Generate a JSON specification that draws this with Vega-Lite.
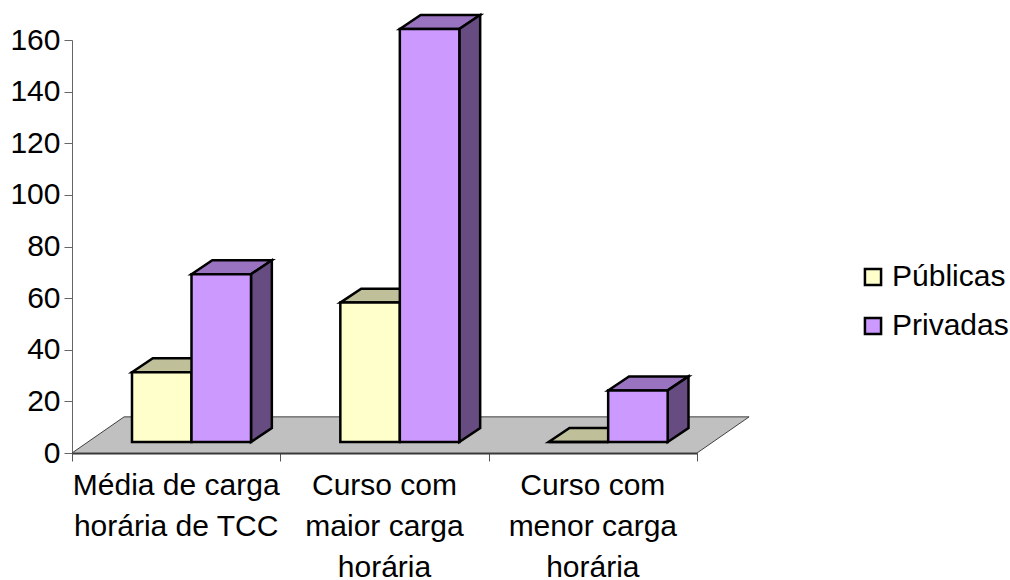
{
  "$schema": "https://vega.github.io/schema/vega-lite/v6.json",
  "autosize": {"type": "none"},
  "width": 625,
  "height": 413,
  "padding": {"left": 72, "top": 40, "right": 313, "bottom": 127},
  "background": "white",
  "config": {"view": {"stroke": null}, "font": "Liberation Sans"},
  "datasets": {
    "bars": [
      {"category": "Média de carga\nhorária de TCC", "series": "Públicas", "value": 27},
      {"category": "Média de carga\nhorária de TCC", "series": "Privadas", "value": 65},
      {"category": "Curso com\nmaior carga\nhorária", "series": "Públicas", "value": 54},
      {"category": "Curso com\nmaior carga\nhorária", "series": "Privadas", "value": 160},
      {"category": "Curso com\nmenor carga\nhorária", "series": "Públicas", "value": 0},
      {"category": "Curso com\nmenor carga\nhorária", "series": "Privadas", "value": 20}
    ]
  },
  "data": {"name": "bars"},
  "transform": [
    {"calculate": "indexof(datum.category,'Média')>=0?0:indexof(datum.category,'maior')>=0?1:2", "as": "i"},
    {"calculate": "datum.i+0.288+(datum.series==='Privadas'?0.2856:0)", "as": "x0"},
    {"calculate": "datum.x0+0.2856", "as": "x1"},
    {"calculate": "4.26", "as": "base"},
    {"calculate": "datum.base+datum.value", "as": "top"},
    {"calculate": "datum.i+'-'+datum.series", "as": "key"}
  ],
  "layer": [
    {
      "transform": [
        {"filter": "datum.i===0 && datum.series==='Públicas'"},
        {"calculate": "[0,1,2,3]", "as": "k"},
        {"flatten": ["k"]},
        {"calculate": "datum.k===0?0:datum.k===1?0.25:datum.k===2?3:3.25", "as": "fx"},
        {"calculate": "datum.k===3?14:0", "as": "fy"},
        {"calculate": "datum.k===0?0:14", "as": "fy2"}
      ],
      "mark": {"type": "area", "orient": "vertical", "fill": "#c0c0c0", "stroke": "#404040", "strokeWidth": 1},
      "encoding": {
        "x": {"field": "fx", "type": "quantitative", "scale": {"domain": [0, 3], "nice": false, "zero": false},
          "axis": {"values": [0, 1, 2, 3], "labels": false, "title": null, "grid": false, "domainColor": "#333333", "domainWidth": 2, "tickColor": "#555555", "tickSize": 8, "tickWidth": 1}},
        "y": {"field": "fy", "type": "quantitative", "scale": {"domain": [0, 160], "nice": false},
          "axis": {"values": [0, 20, 40, 60, 80, 100, 120, 140, 160], "title": null, "grid": false, "domainColor": "#666666", "domainWidth": 1, "tickColor": "#666666", "tickSize": 8, "tickWidth": 1, "labelFontSize": 30, "labelColor": "black", "labelPadding": 4, "labelFont": "Liberation Sans"}},
        "y2": {"field": "fy2"}
      }
    },
    {
      "transform": [
        {"filter": "datum.series==='Públicas'"},
        {"calculate": "[0,1,2,3]", "as": "k"},
        {"flatten": ["k"]},
        {"calculate": "datum.k===0?datum.x0:datum.k===1?datum.x0+0.1:datum.k===2?datum.x1:datum.x1+0.1", "as": "tx"},
        {"calculate": "datum.k===3?datum.top+5.42:datum.top", "as": "ty"},
        {"calculate": "datum.k===0?datum.top:datum.top+5.42", "as": "ty2"}
      ],
      "mark": {"type": "area", "orient": "vertical", "fill": "#bfbf99", "stroke": "black", "strokeWidth": 2.5, "strokeJoin": "miter"},
      "encoding": {
        "x": {"field": "tx", "type": "quantitative"},
        "y": {"field": "ty", "type": "quantitative"},
        "y2": {"field": "ty2"},
        "detail": {"field": "key"}
      }
    },
    {
      "transform": [
        {"filter": "datum.series==='Privadas'"},
        {"calculate": "[0,1,2,3]", "as": "k"},
        {"flatten": ["k"]},
        {"calculate": "datum.k===0?datum.x0:datum.k===1?datum.x0+0.1:datum.k===2?datum.x1:datum.x1+0.1", "as": "tx"},
        {"calculate": "datum.k===3?datum.top+5.42:datum.top", "as": "ty"},
        {"calculate": "datum.k===0?datum.top:datum.top+5.42", "as": "ty2"}
      ],
      "mark": {"type": "area", "orient": "vertical", "fill": "#9973bf", "stroke": "black", "strokeWidth": 2.5, "strokeJoin": "miter"},
      "encoding": {
        "x": {"field": "tx", "type": "quantitative"},
        "y": {"field": "ty", "type": "quantitative"},
        "y2": {"field": "ty2"},
        "detail": {"field": "key"}
      }
    },
    {
      "transform": [
        {"filter": "datum.series==='Privadas'"},
        {"calculate": "[0,1]", "as": "k"},
        {"flatten": ["k"]},
        {"calculate": "datum.x1+datum.k*0.1", "as": "sx"},
        {"calculate": "datum.base+datum.k*5.42", "as": "sy"},
        {"calculate": "datum.top+datum.k*5.42", "as": "sy2"}
      ],
      "mark": {"type": "area", "orient": "vertical", "fill": "#664c80", "stroke": "black", "strokeWidth": 2.5, "strokeJoin": "miter"},
      "encoding": {
        "x": {"field": "sx", "type": "quantitative"},
        "y": {"field": "sy", "type": "quantitative"},
        "y2": {"field": "sy2"},
        "detail": {"field": "key"}
      }
    },
    {
      "mark": {"type": "rect", "stroke": "black", "strokeWidth": 2.5},
      "encoding": {
        "x": {"field": "x0", "type": "quantitative"},
        "x2": {"field": "x1"},
        "y": {"field": "base", "type": "quantitative"},
        "y2": {"field": "top"},
        "fill": {"field": "series", "type": "nominal",
          "scale": {"domain": ["Públicas", "Privadas"], "range": ["#ffffcc", "#cc99ff"]},
          "legend": {"title": null, "orient": "none", "legendX": 786, "legendY": 222, "symbolType": "square", "symbolSize": 260, "symbolStrokeColor": "black", "symbolStrokeWidth": 2.5, "symbolOpacity": 1, "labelFontSize": 30, "labelColor": "black", "labelFont": "Liberation Sans", "labelOffset": 4, "rowPadding": 19, "labelLimit": 200}}
      }
    },
    {
      "transform": [
        {"filter": "datum.series==='Públicas'"},
        {"calculate": "datum.i+0.5", "as": "cx"},
        {"calculate": "0", "as": "zero"}
      ],
      "mark": {"type": "text", "fontSize": 30, "font": "Liberation Sans", "color": "black", "baseline": "top", "align": "center", "dy": 17.5, "lineBreak": "\n", "lineHeight": 41},
      "encoding": {
        "x": {"field": "cx", "type": "quantitative"},
        "y": {"field": "zero", "type": "quantitative"},
        "text": {"field": "category", "type": "nominal"}
      }
    }
  ]
}
